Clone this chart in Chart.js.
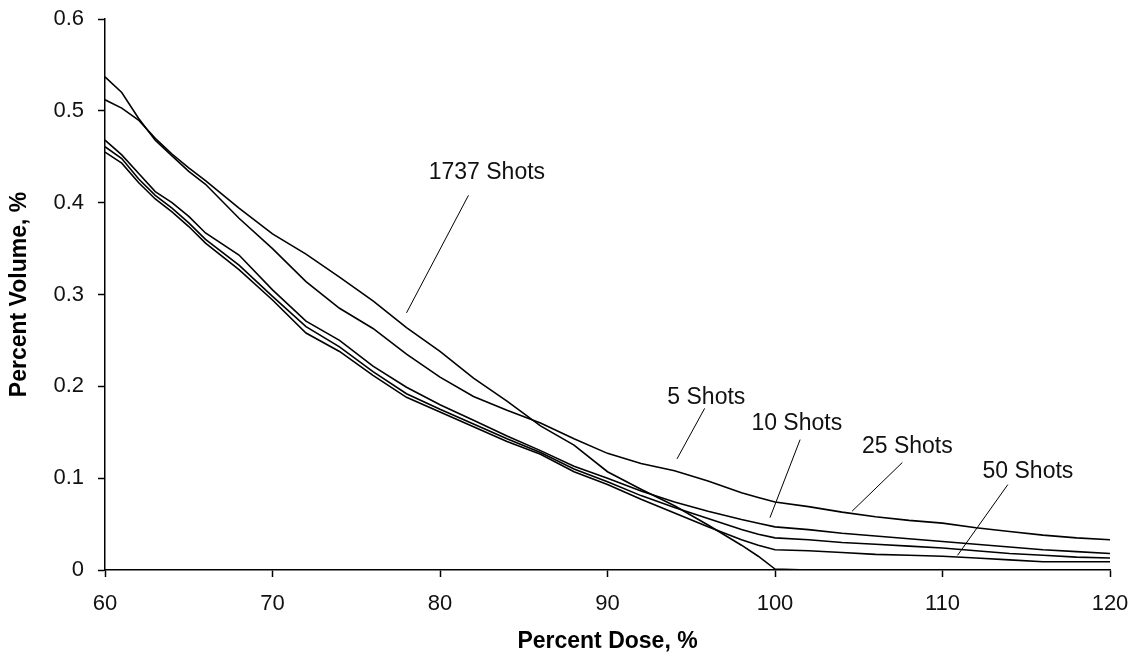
<!DOCTYPE html>
<html>
<head>
<meta charset="utf-8">
<script src="https://cdn.jsdelivr.net/npm/chart.js@4"></script>
<style>
    body { margin: 0; background: #fff; }
    #wrap { width: 1134px; height: 665px; }
</style>
</head>
<body>
<div id="wrap"><canvas id="dvh" width="1134" height="665"></canvas></div>
<script>
// Доза, % (общая шкала для всех кривых)
const dose = [60, 61, 62, 63, 64, 65, 66, 68, 70, 72, 74, 76, 78, 80, 82, 84, 86, 88, 90, 92, 94, 96, 98, 99, 100,
              102, 104, 106, 108, 110, 112, 114, 116, 118, 120];

// Объём, % для каждого числа выстрелов
const shots1737 = [0.512, 0.503, 0.490, 0.470, 0.453, 0.438, 0.424, 0.394, 0.366, 0.344, 0.319, 0.293, 0.264, 0.238, 0.209, 0.184, 0.157, 0.136, 0.107, 0.088, 0.070, 0.049, 0.027, 0.015, 0.001,
                   0.000, null, null, null, null, null, null, null, null, null];
const shots5 = [0.537, 0.520, 0.492, 0.468, 0.451, 0.434, 0.420, 0.383, 0.350, 0.314, 0.285, 0.263, 0.235, 0.210, 0.189, 0.174, 0.160, 0.143, 0.127, 0.116, 0.108, 0.097, 0.084, 0.079, 0.074,
                0.069, 0.063, 0.058, 0.054, 0.051, 0.046, 0.042, 0.038, 0.035, 0.033];
const shots10 = [0.468, 0.452, 0.432, 0.412, 0.400, 0.385, 0.367, 0.343, 0.305, 0.271, 0.250, 0.222, 0.199, 0.180, 0.163, 0.146, 0.130, 0.113, 0.100, 0.086, 0.074, 0.064, 0.055, 0.051, 0.047,
                 0.044, 0.040, 0.037, 0.034, 0.031, 0.028, 0.025, 0.022, 0.020, 0.018];
const shots25 = [0.461, 0.448, 0.426, 0.408, 0.394, 0.378, 0.360, 0.332, 0.298, 0.265, 0.243, 0.216, 0.192, 0.175, 0.159, 0.143, 0.128, 0.110, 0.096, 0.081, 0.068, 0.056, 0.044, 0.039, 0.035,
                 0.033, 0.030, 0.028, 0.026, 0.024, 0.021, 0.018, 0.016, 0.014, 0.013];
const shots50 = [0.455, 0.443, 0.422, 0.404, 0.390, 0.374, 0.356, 0.327, 0.294, 0.258, 0.238, 0.212, 0.188, 0.172, 0.156, 0.140, 0.126, 0.107, 0.093, 0.077, 0.062, 0.047, 0.033, 0.027, 0.022,
                 0.021, 0.019, 0.017, 0.016, 0.015, 0.013, 0.011, 0.009, 0.009, 0.009];

// Подписи кривых и выноски (в координатах данных)
const noteText = ['1737 Shots', '5 Shots', '10 Shots', '25 Shots', '50 Shots'];
const noteDose = [82.8, 95.9, 101.3, 107.9, 115.1];
const noteVol = [0.433, 0.188, 0.159, 0.134, 0.107];
const leaderFromDose = [81.7, 95.8, 101.5, 107.6, 113.9];
const leaderFromVol = [0.408, 0.176, 0.142, 0.117, 0.093];
const leaderToDose = [78.0, 94.15, 99.7, 104.6, 110.9];
const leaderToVol = [0.280, 0.121, 0.057, 0.064, 0.016];

function toPoints(values) {
    return dose.map((d, i) => ({ x: d, y: values[i] })).filter(p => p.y !== null);
}

function curve(label, values) {
    return {
        label: label,
        data: toPoints(values),
        borderColor: '#000',
        borderWidth: 1.6,
        pointRadius: 0,
        tension: 0,
        fill: false
    };
}

// Рисуем подписи и выноски поверх кривых
const notesPlugin = {
    id: 'notes',
    afterDatasetsDraw(chart) {
        const ctx = chart.ctx;
        const xs = chart.scales.x;
        const ys = chart.scales.y;
        ctx.save();
        ctx.strokeStyle = '#000';
        ctx.lineWidth = 1;
        for (let i = 0; i < noteText.length; i++) {
            ctx.beginPath();
            ctx.moveTo(xs.getPixelForValue(leaderFromDose[i]), ys.getPixelForValue(leaderFromVol[i]));
            ctx.lineTo(xs.getPixelForValue(leaderToDose[i]), ys.getPixelForValue(leaderToVol[i]));
            ctx.stroke();
        }
        ctx.fillStyle = '#111';
        ctx.font = '23px "Liberation Sans", Arial, sans-serif';
        ctx.textAlign = 'center';
        ctx.textBaseline = 'middle';
        noteText.forEach((t, i) => {
            ctx.fillText(t, xs.getPixelForValue(noteDose[i]), ys.getPixelForValue(noteVol[i]));
        });
        ctx.restore();
    }
};

document.addEventListener('DOMContentLoaded', function() {
    const ctx = document.getElementById('dvh').getContext('2d');
    const tickFont = { family: '"Liberation Sans", Arial, sans-serif', size: 22 };
    const titleFont = { family: '"Liberation Sans", Arial, sans-serif', size: 23, weight: 'bold' };

    new Chart(ctx, {
        type: 'line',
        data: {
            datasets: [
                curve('1737 Shots', shots1737),
                curve('5 Shots', shots5),
                curve('10 Shots', shots10),
                curve('25 Shots', shots25),
                curve('50 Shots', shots50)
            ]
        },
        options: {
            responsive: false,
            animation: false,
            devicePixelRatio: 1,
            layout: { padding: { left: 0, top: 19, right: 24, bottom: 0 } },
            plugins: {
                legend: { display: false },
                tooltip: { enabled: false }
            },
            scales: {
                x: {
                    type: 'linear',
                    min: 60,
                    max: 120,
                    ticks: { stepSize: 10, color: '#111', font: tickFont, padding: 14, maxRotation: 0 },
                    grid: { drawOnChartArea: false, drawTicks: true, tickLength: 7, tickColor: '#000', tickWidth: 1.5 },
                    border: { color: '#000', width: 1.5 },
                    title: { display: true, text: 'Percent Dose, %', color: '#000', font: titleFont, padding: { top: 0, bottom: 10 } },
                    afterFit(scale) {
                        scale.height = 95;
                        scale.paddingLeft = 0;
                        scale.paddingRight = 0;
                    }
                },
                y: {
                    min: 0,
                    max: 0.6,
                    ticks: { stepSize: 0.1, color: '#111', font: tickFont, padding: 14 },
                    grid: { drawOnChartArea: false, drawTicks: true, tickLength: 7, tickColor: '#000', tickWidth: 1.5 },
                    border: { color: '#000', width: 1.5 },
                    title: { display: true, text: 'Percent Volume, %', color: '#000', font: titleFont, padding: { top: 6, bottom: 0 } },
                    afterFit(scale) {
                        scale.width = 105;
                        scale.paddingTop = 0;
                        scale.paddingBottom = 0;
                    }
                }
            }
        },
        plugins: [notesPlugin]
    });
});
</script>
</body>
</html>
